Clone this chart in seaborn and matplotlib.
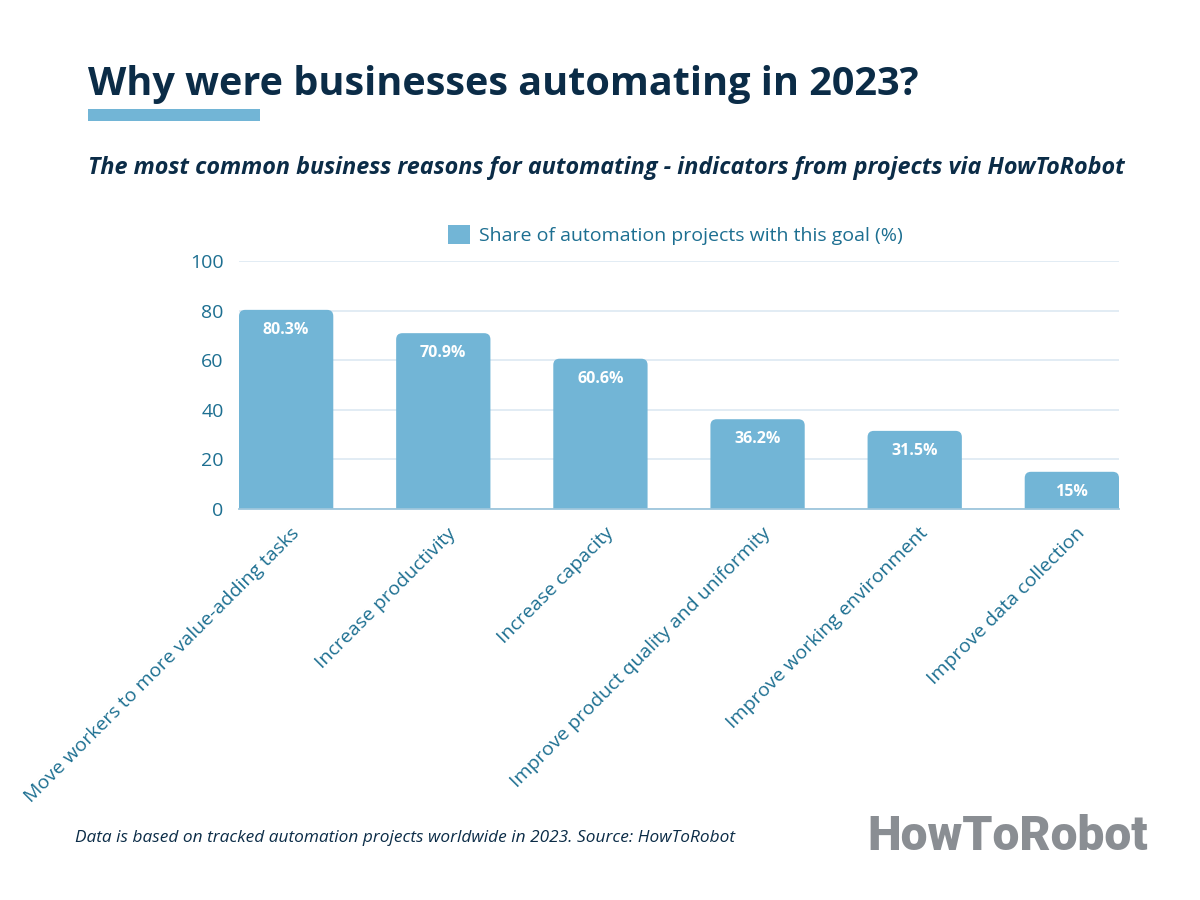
import matplotlib
matplotlib.use("Agg")
import matplotlib.pyplot as plt
import seaborn as sns
from matplotlib.patches import FancyBboxPatch, Patch, Rectangle
from matplotlib.transforms import ScaledTranslation

# Дані
reasons = [
    "Move workers to more value-adding tasks",
    "Increase productivity",
    "Increase capacity",
    "Improve product quality and uniformity",
    "Improve working environment",
    "Improve data collection",
]
shares = [80.3, 70.9, 60.6, 36.2, 31.5, 15]
y_ticks = [0, 20, 40, 60, 80, 100]

bar_color = "#72b5d6"
navy = "#0b2c47"
tick_color = "#1d6f91"

sns.set_theme(style="white")
plt.rcParams["font.family"] = ["Open Sans", "DejaVu Sans"]

fig = plt.figure(figsize=(12, 9), dpi=100)
ax = fig.add_axes([239 / 1200, 1 - 509 / 900, 880 / 1200, 248 / 900])

sns.barplot(x=reasons, y=shares, color=bar_color, width=0.6, ax=ax, zorder=3)

# заокруглені кути стовпців
for p in list(ax.patches):
    x0, w, h = p.get_x(), p.get_width(), p.get_height()
    rb = FancyBboxPatch((x0, -5), w, h + 5,
                        boxstyle="round,pad=0,rounding_size=0.04",
                        mutation_aspect=63, facecolor=bar_color,
                        edgecolor="none", zorder=3)
    p.remove()
    ax.add_patch(rb)

for i, v in enumerate(shares):
    ax.annotate(f"{v:g}%", (i, v), xytext=(0, -14.5), textcoords="offset points",
                ha="center", va="center", color="white", fontsize=11.5,
                fontweight="bold", zorder=4)

ax.set_xlim(-0.3, 5.3)
ax.set_ylim(0, 100)
ax.set_yticks(y_ticks)
ax.yaxis.grid(True, color="#dde9f2", linewidth=1.2, zorder=0)
ax.set_axisbelow(True)
for s in ["top", "right", "left"]:
    ax.spines[s].set_visible(False)
ax.spines["bottom"].set_color("#9ec6dc")
ax.spines["bottom"].set_linewidth(1.3)
ax.spines["bottom"].set_zorder(5)
ax.tick_params(axis="y", length=0, pad=11, labelsize=14, labelcolor=tick_color)
ax.tick_params(axis="x", length=0, pad=11, labelsize=14, labelcolor=tick_color)
offset = ScaledTranslation(4 / 100, 0, fig.dpi_scale_trans)
for lbl in ax.get_xticklabels():
    lbl.set_rotation(45)
    lbl.set_ha("right")
    lbl.set_va("top")
    lbl.set_rotation_mode("anchor")
    lbl.set_transform(lbl.get_transform() + offset)

ax.legend(handles=[Patch(facecolor=bar_color, edgecolor="none",
                         label="Share of automation projects with this goal (%)")],
          loc="center", bbox_to_anchor=(0.563, 0.739), bbox_transform=fig.transFigure,
          frameon=False, fontsize=14, handlelength=1.13, handleheight=1.13,
          handletextpad=0.45, labelcolor=tick_color)

# Заголовки
fig.text(88 / 1200, 1 - 95 / 900, "Why were businesses automating in 2023?",
         fontsize=28.5, fontweight="bold", color=navy, va="baseline")
fig.patches.append(Rectangle((88 / 1200, 1 - 121 / 900), 172 / 1200, 12 / 900,
                             transform=fig.transFigure, facecolor=bar_color,
                             edgecolor="none"))
fig.text(88 / 1200, 1 - 174 / 900,
         "The most common business reasons for automating - indicators from projects via HowToRobot",
         fontsize=16.8, fontweight="bold", fontstyle="italic", color=navy, va="baseline")

fig.text(75 / 1200, 1 - 842 / 900,
         "Data is based on tracked automation projects worldwide in 2023. Source: HowToRobot",
         fontsize=12.4, fontstyle="italic", color=navy, va="baseline")
fig.text(1148 / 1200, 1 - 850 / 900, "HowToRobot", fontsize=34.5, fontweight="heavy",
         family=["Roboto", "DejaVu Sans"], color="#8a8e93",
         ha="right", va="baseline")

fig.savefig("out.png", dpi=100)
